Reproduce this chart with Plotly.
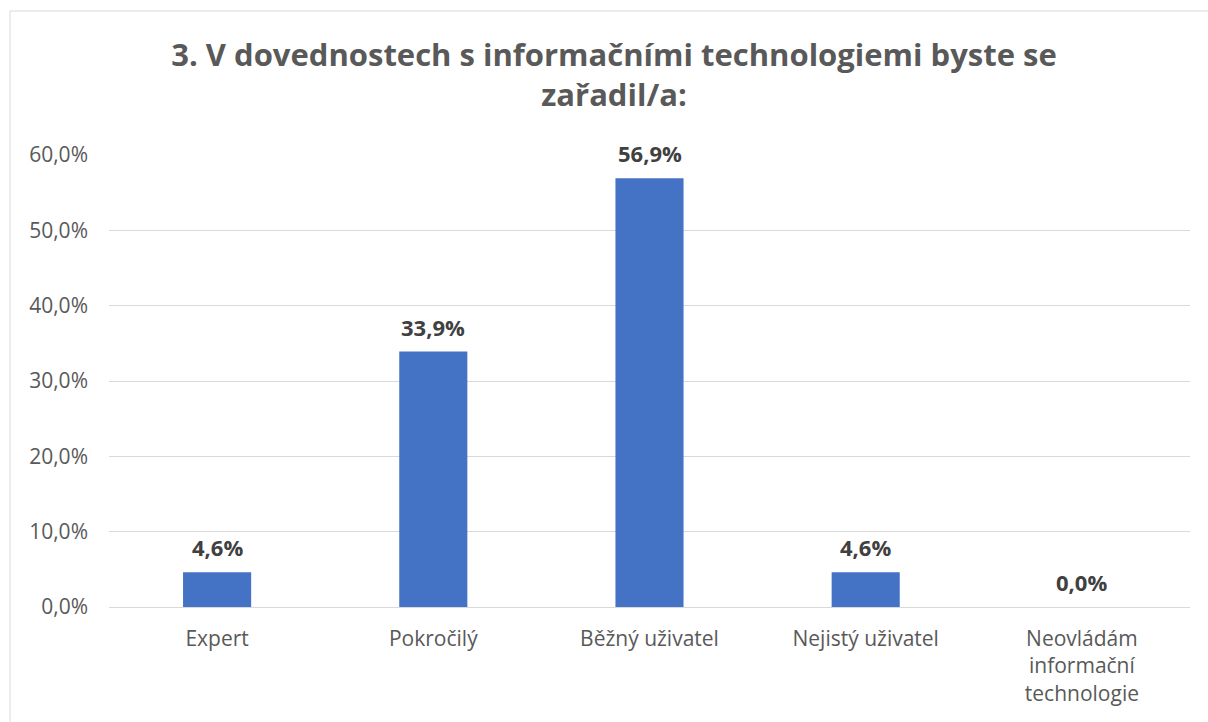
import plotly.graph_objects as go

categories = ["Expert", "Pokročilý", "Běžný uživatel", "Nejistý uživatel",
              "Neovládám<br>informační<br>technologie"]
values = [4.6, 33.9, 56.9, 4.6, 0.0]
title_text = "3. V dovednostech s informačními technologiemi byste se<br>zařadil/a:"

FONT = "Open Sans"
GRAY = "#595959"

W, H = 1208, 722
L, R, T, B = 109, 18, 155, 115
PW, PH = W - L - R, H - T - B

fig = go.Figure(go.Bar(
    x=categories, y=values,
    marker=dict(color="#4472C4", line=dict(width=0)),
    hoverinfo="x+y",
))

annotations = [
    dict(x=c, y=v, xref="x", yref="y", text=f"{v:.1f}%".replace(".", ","),
         showarrow=False, yanchor="bottom", yshift=8,
         font=dict(family=FONT, size=22, color="#404040", weight="bold"))
    for c, v in zip(categories, values)
]

fig.update_layout(
    width=W, height=H,
    margin=dict(l=L, r=R, t=T, b=B),
    paper_bgcolor="white", plot_bgcolor="white",
    separators=", ",
    bargap=0.685,
    showlegend=False,
    annotations=annotations,
    title=dict(text=title_text, x=614 / W, xanchor="center", xref="container",
               y=1 - 66 / H, yanchor="top", yref="container",
               font=dict(family=FONT, size=31, color=GRAY, weight="bold")),
    xaxis=dict(showgrid=False, showline=False, ticks="",
               tickfont=dict(family=FONT, size=21, color=GRAY),
               ticklabelstandoff=17),
    yaxis=dict(range=[0, 60], dtick=10, tickformat=".1f", ticksuffix="%",
               showgrid=True, gridcolor="#d9d9d9", gridwidth=1,
               zeroline=True, zerolinecolor="#d9d9d9", zerolinewidth=1,
               showline=False, ticks="",
               tickfont=dict(family=FONT, size=21, color=GRAY),
               ticklabelstandoff=20),
    shapes=[dict(type="rect", xref="paper", yref="paper",
                 x0=(10 - L) / PW, x1=(1240 - L) / PW,
                 y0=(PH - 760 + T) / PH, y1=(PH - 11 + T) / PH,
                 line=dict(color="#d9d9d9", width=1), fillcolor="rgba(0,0,0,0)",
                 layer="below")],
)

fig.write_html("out.html",
               config={"displayModeBar": False},
               post_script="document.body.style.margin='0';"
                           "document.body.style.overflow='hidden';")
